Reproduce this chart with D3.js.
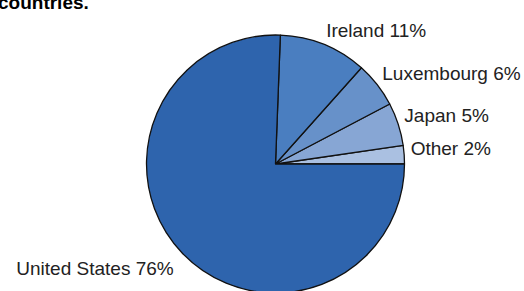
<!DOCTYPE html>
<html>
<head>
<meta charset="utf-8">
<script src="https://cdn.jsdelivr.net/npm/d3@7"></script>
<style>
  html, body { margin: 0; padding: 0; background: #fff; }
  svg { display: block; }
  text { font-family: "Liberation Sans", Arial, sans-serif; }
</style>
</head>
<body>
<svg id="chart" width="524" height="291"></svg>
<script>
// Data (drawing order: counter-clockwise from 3 o'clock)
const categories = ["Other", "Japan", "Luxembourg", "Ireland", "United States"];
const values = [2.3, 5.4, 5.7, 11.0, 75.6];
const percentLabels = ["2%", "5%", "6%", "11%", "76%"];
const titleText = "countries.";

const colors = ["#aac0e1", "#87a6d4", "#6791c9", "#4a7ec0", "#2e64ad"];

const W = 524, H = 291;
const cx = 275.5, cy = 164, R = 129;

const svg = d3.select("#chart");

svg.append("text")
  .attr("x", -2).attr("y", 8.5)
  .attr("font-size", 19).attr("font-weight", "bold")
  .attr("fill", "#000")
  .text(titleText);

const data = categories.map((c, i) => ({ name: c, value: values[i], label: percentLabels[i], color: colors[i] }));

const pie = d3.pie().value(d => d.value).sort(null)
  .startAngle(Math.PI / 2).endAngle(Math.PI / 2 - 2 * Math.PI);
const arcs = pie(data);
const arcGen = d3.arc().innerRadius(0).outerRadius(R);

const g = svg.append("g").attr("transform", `translate(${cx},${cy})`);

g.selectAll("path.slice").data(arcs).enter().append("path")
  .attr("class", "slice")
  .attr("d", arcGen)
  .attr("fill", d => d.data.color)
  .attr("stroke", "#111")
  .attr("stroke-width", 1.3)
  .attr("stroke-linejoin", "round");

// labels, positioned outside each slice from its mid-angle
const lab = g.selectAll("text.lbl").data(arcs).enter().append("text")
  .attr("class", "lbl")
  .attr("font-size", 19)
  .attr("fill", "#222");

lab.each(function(d) {
  const mid = (d.startAngle + d.endAngle) / 2;
  const s = Math.sin(mid), c = -Math.cos(mid);
  const sel = d3.select(this).text(d.data.name + " " + d.data.label);
  if (s >= 0) {
    const Rl = 135.5;
    sel.attr("x", s * Rl)
       .attr("y", c * Rl + 0.5 + 2 * c)
       .attr("text-anchor", "start");
  } else {
    const Rl = 133;
    sel.attr("x", s * Rl - 6)
       .attr("y", c * Rl + 19)
       .attr("text-anchor", "end");
  }
});
</script>
</body>
</html>
